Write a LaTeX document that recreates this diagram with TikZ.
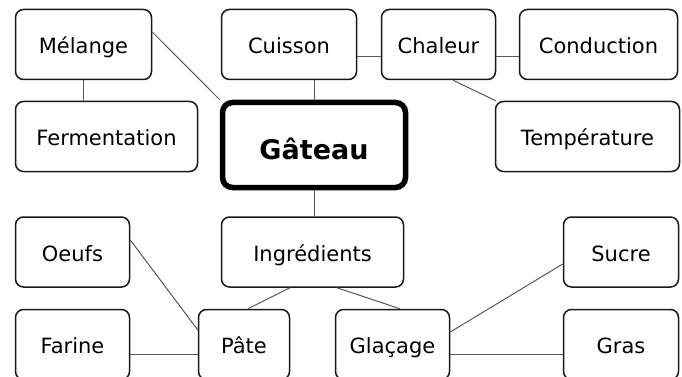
\documentclass[tikz,border=0pt]{standalone}
\usepackage{fontspec}
\setmainfont{DejaVu Sans}
\usetikzlibrary{positioning, calc}
\tikzset{
    idee/.style={draw=black!90, rectangle, rounded corners=8pt, line width=1.5pt, align=center,
        minimum height=70pt, inner sep=0pt, text height=18pt, text depth=0pt,
        font=\fontsize{21}{25}\selectfont},
    centre/.style={idee, draw=black, line width=5.5pt, rounded corners=10pt, minimum height=85pt,
        text height=28pt, font=\fontsize{27}{32}\selectfont\bfseries},
    lien/.style={draw=black!65, line width=1pt}
}

\begin{document}
\begin{tikzpicture}[x=1pt, y=-1pt]

    \useasboundingbox (0,0) rectangle (682,377);
    \clip (0,0) rectangle (682,377);

    % ============================================================
    % Centre
    % ============================================================
    \node[centre, minimum width=183pt] (gateau) at (314,145) {Gâteau};

    % ============================================================
    % Row 1 and 2: Mélange, Cuisson, Chaleur
    % ============================================================
    \node[idee, minimum width=136pt] (melange) at (83.5,44.5) {Mélange};
    \node[idee, minimum width=182pt] (ferment) at (106.5,136.5) {Fermentation};
    \node[idee, minimum width=135pt] (cuisson) at (289,44.5) {Cuisson};
    \node[idee, minimum width=114pt] (chaleur) at (438.5,44.5) {Chaleur};
    \node[idee, minimum width=158pt] (conduction) at (598.5,44.5) {Conduction};
    \node[idee, minimum width=184pt] (temperature) at (587.5,136.5) {Température};

    % ============================================================
    % Row 3 and 4: Ingrédients
    % ============================================================
    \node[idee, minimum width=114pt] (oeufs) at (72.5,252) {Oeufs};
    \node[idee, minimum width=182pt] (ingredients) at (312.5,252) {Ingrédients};
    \node[idee, minimum width=115pt] (sucre) at (621,252) {Sucre};
    \node[idee, minimum width=114pt] (farine) at (72.5,344.5) {Farine};
    \node[idee, minimum width=91pt] (pate) at (244,344.5) {Pâte};
    \node[idee, minimum width=114pt] (glacage) at (392.5,344.5) {Glaçage};
    \node[idee, minimum width=115pt] (gras) at (621,344.5) {Gras};

    % ============================================================
    % Liens
    % ============================================================
    \draw[lien] ([yshift=12.5pt]melange.east) -- (gateau.north west);
    \draw[lien] (melange.south) -- (melange.south |- ferment.north);
    \draw[lien] (gateau.north) -- (gateau.north |- cuisson.south);
    \draw[lien] ([yshift=-12.5pt]cuisson.east) -- ([yshift=-12.5pt]chaleur.west);
    \draw[lien] ([yshift=-12.5pt]chaleur.east) -- ([yshift=-12.5pt]conduction.west);
    \draw[lien] ([xshift=14.5pt]chaleur.south) -- ([xshift=1pt]temperature.north west);

    \draw[lien] (gateau.south) -- (gateau.south |- ingredients.north);
    \draw[lien] ([xshift=-22.5pt]ingredients.south) -- ([xshift=4pt]pate.north);
    \draw[lien] ([xshift=24.5pt]ingredients.south) -- ([xshift=7.5pt]glacage.north);

    \draw[lien] ([yshift=12pt]oeufs.east) -- ([yshift=14.5pt]pate.west);
    \draw[lien] ([yshift=-9.5pt]farine.east) -- ([yshift=-9.5pt]pate.west);
    \draw[lien] ([yshift=12.5pt]glacage.east) -- ([yshift=-12pt]sucre.west);
    \draw[lien] ([yshift=-9.5pt]glacage.east) -- ([yshift=-9.5pt]gras.west);

\end{tikzpicture}
\end{document}
